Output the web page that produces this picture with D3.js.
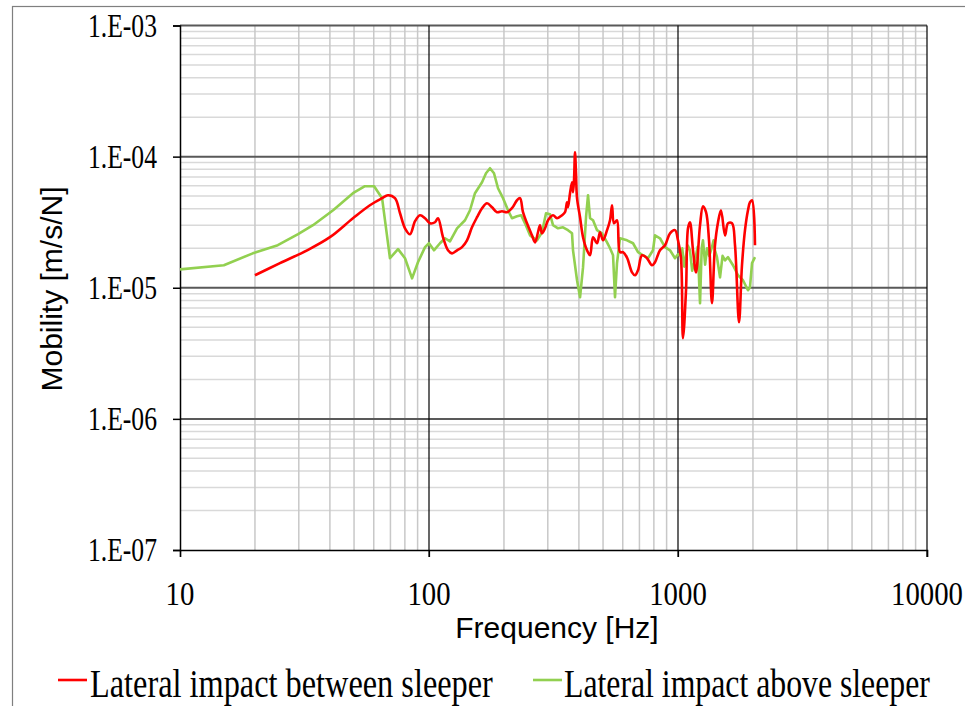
<!DOCTYPE html>
<html>
<head>
<meta charset="utf-8">
<script src="https://cdn.jsdelivr.net/npm/d3@7"></script>
<style>
  html, body { margin: 0; padding: 0; background: #fff; }
  svg { display: block; }
</style>
</head>
<body>
<svg id="chart" width="965" height="706"></svg>
<script>
// Lateral impact between sleeper: frequency [Hz] and mobility [m/s/N]
const freqBetween = [20, 25.2, 32.4, 40, 49.5, 57.9, 64.8, 68.4, 73, 76.5, 80.1, 83.9, 87.9, 92, 96.4,
  100.9, 105.7, 108.7, 113.8, 119.2, 123.7, 129.6, 135.7, 142.1, 148.8, 155.9, 163.3, 171, 179.1,
  187.6, 196.4, 205.8, 215.4, 225.7, 232.1, 238.5, 247.5, 259.2, 266.5, 274, 279.1, 284.3, 292.4,
  300.6, 314.8, 326.6, 342.1, 351.7, 358.3, 361.6, 368.4, 375.3, 378.8, 382.3, 385.8, 389.4, 393.1,
  404.2, 415.5, 431.2, 443.3, 455.8, 473, 486.2, 499.9, 518.8, 533.4, 543.3, 553.4, 568.9, 584.9,
  601.4, 624, 653.7, 672, 690.9, 717, 750.8, 786.3, 808.3, 846.5, 886.7, 928.8, 972.7, 1000, 1028,
  1047, 1077, 1097, 1117, 1149, 1181, 1226, 1260, 1296, 1332, 1369, 1408, 1448, 1488, 1545, 1588,
  1648, 1694, 1758, 1807, 1858, 1910, 1946, 1983, 2038];
const mobBetween = [1.245e-5, 1.54e-5, 1.93e-5, 2.43e-5, 3.39e-5, 4.26e-5, 4.82e-5, 5.08e-5, 4.82e-5,
  3.70e-5, 2.84e-5, 2.56e-5, 3.22e-5, 3.57e-5, 3.39e-5,
  3.10e-5, 3.16e-5, 3.39e-5, 2.43e-5, 1.93e-5, 1.83e-5, 1.93e-5, 2.04e-5, 2.30e-5, 2.89e-5, 3.45e-5,
  4.04e-5, 4.41e-5, 4.11e-5,
  3.77e-5, 3.83e-5, 3.77e-5, 4.04e-5, 4.65e-5, 4.82e-5, 3.77e-5, 3.10e-5, 2.51e-5, 2.22e-5, 2.65e-5,
  3.0e-5, 2.60e-5, 2.84e-5,
  3.27e-5, 3.57e-5, 3.39e-5, 3.57e-5, 3.77e-5, 4.49e-5, 4.11e-5, 5.26e-5, 6.38e-5, 5.35e-5, 6.61e-5,
  10.8e-5, 7.47e-5, 4.82e-5,
  3.45e-5, 2.43e-5, 1.93e-5, 1.77e-5, 2.43e-5, 2.185e-5, 2.65e-5, 2.30e-5, 2.75e-5, 3.27e-5, 4.26e-5,
  3.10e-5, 3.27e-5, 1.87e-5,
  1.87e-5, 1.70e-5, 1.31e-5, 1.245e-5, 1.36e-5, 1.77e-5, 1.68e-5, 1.485e-5, 1.565e-5, 1.93e-5,
  2.11e-5, 2.60e-5, 2.75e-5, 2.30e-5, 1.68e-5,
  0.412e-5, 0.957e-5, 2.84e-5, 3.16e-5, 1.93e-5, 1.31e-5, 3.0e-5, 4.18e-5, 3.77e-5, 2.30e-5, 0.762e-5,
  2.11e-5, 3.16e-5, 3.9e-5, 2.51e-5, 3.10e-5,
  3.10e-5, 2.11e-5, 0.545e-5, 1.485e-5, 2.75e-5, 3.9e-5, 4.49e-5, 4.65e-5, 2.11e-5];

// Lateral impact above sleeper
const freqAbove = [10, 15, 19.6, 24.7, 29.8, 34.2, 41.2, 49.5, 55.3, 60.2, 64.8, 69.7, 75.1, 80.1, 85.5,
  90.3, 96.4, 100, 104.7, 110.7, 116, 121.4, 129.6, 139.5, 146.1, 153, 163.3, 169.4, 175.8, 182.4,
  189.3, 198.3, 207.7, 215.4, 225.7, 234.5, 243, 254.5, 271.5, 284.3, 295.1, 306.1, 314.8, 329.7,
  345.3, 361.6, 375.3, 378.8, 393.1, 404.2, 415.5, 427.2, 435.2, 443.3, 455.8, 473, 495.3, 518.8,
  533.4, 548.4, 558.5, 568.9, 584.9, 624.2, 659.8, 690.9, 723.6, 757.8, 793.5, 808.3, 846.5, 886.7,
  928.8, 972.7, 1000, 1019, 1040, 1060, 1077, 1095, 1117, 1140, 1170, 1200, 1226, 1245, 1260, 1285,
  1308, 1335, 1369, 1390, 1408, 1434, 1475, 1510, 1545, 1588, 1663, 1742, 1824, 1910, 1946, 1983, 2038];
const mobAbove = [1.38e-5, 1.485e-5, 1.83e-5, 2.11e-5, 2.56e-5, 3.0e-5, 3.9e-5, 5.26e-5, 5.95e-5, 5.95e-5,
  4.82e-5, 1.68e-5, 1.97e-5, 1.68e-5, 1.18e-5,
  1.565e-5, 2.04e-5, 2.185e-5, 1.93e-5, 2.185e-5, 2.385e-5, 2.26e-5, 2.84e-5, 3.27e-5, 3.9e-5, 5.26e-5,
  6.38e-5, 7.47e-5, 8.16e-5, 7.47e-5,
  5.74e-5, 4.82e-5, 3.9e-5, 3.39e-5, 3.51e-5, 3.57e-5, 3.10e-5, 2.51e-5, 2.30e-5, 2.65e-5, 3.70e-5,
  3.64e-5, 3.0e-5, 2.84e-5,
  2.89e-5, 2.75e-5, 2.60e-5, 1.93e-5, 1.14e-5, 0.846e-5, 1.43e-5, 3.45e-5, 5.08e-5, 3.39e-5, 3.27e-5,
  2.75e-5, 2.60e-5, 2.22e-5,
  2.0e-5, 1.77e-5, 0.846e-5, 1.54e-5, 2.385e-5, 2.30e-5, 2.185e-5, 1.87e-5, 1.77e-5, 1.68e-5, 1.93e-5,
  2.51e-5, 2.385e-5, 2.04e-5,
  1.93e-5, 1.68e-5, 1.80e-5, 1.77e-5, 2.0e-5, 1.45e-5, 1.74e-5, 2.10e-5, 1.93e-5, 1.35e-5, 1.62e-5,
  2.05e-5, 0.762e-5, 2.0e-5, 2.30e-5, 1.50e-5,
  2.0e-5, 1.75e-5, 2.04e-5, 2.3e-5, 1.93e-5, 1.71e-5, 1.20e-5, 1.75e-5, 1.62e-5, 1.71e-5, 1.485e-5,
  1.245e-5, 1.14e-5, 0.957e-5, 1.01e-5, 1.54e-5, 1.71e-5];

const xTicks = [10, 100, 1000, 10000];
const xTickLabels = ["10", "100", "1000", "10000"];
const yTicks = [1e-3, 1e-4, 1e-5, 1e-6, 1e-7];
const yTickLabels = ["1.E-03", "1.E-04", "1.E-05", "1.E-06", "1.E-07"];
const seriesNames = ["Lateral impact between sleeper", "Lateral impact above sleeper"];
const seriesColors = ["#ff0000", "#92d050"];

const svg = d3.select("#chart");
const plotLeft = 180, plotRight = 927, plotTop = 25.5, plotBottom = 550;

const x = d3.scaleLog().domain([10, 10000]).range([plotLeft, plotRight]);
const y = d3.scaleLog().domain([1e-7, 1e-3]).range([plotBottom, plotTop]);

// Narrow serif text: draw at the origin, then squeeze horizontally to a given width.
// anchor: 0 = start, 0.5 = middle, 1 = end
function narrowText(parent, str, px, py, size, width, anchor) {
  const t = parent.append("text")
    .attr("font-family", "Liberation Serif, serif")
    .attr("font-size", size)
    .text(str);
  const w = t.node().getComputedTextLength();
  const k = width / w;
  t.attr("transform", `translate(${px - anchor * width},${py}) scale(${k},1)`);
  return t;
}

// outer frame
svg.append("rect")
  .attr("x", 12.5).attr("y", 6.5).attr("width", 1000).attr("height", 800)
  .attr("fill", "none").attr("stroke", "#7f7f7f").attr("stroke-width", 1.2);

// minor gridlines
const minorX = [];
const minorY = [];
for (let d = 10; d < 10000; d *= 10) for (let k = 2; k <= 9; k++) minorX.push(d * k);
for (let d = 1e-7; d < 1e-3 * 0.99; d *= 10) for (let k = 2; k <= 9; k++) minorY.push(d * k);

const grid = svg.append("g");
grid.selectAll(".hmin").data(minorY).join("line")
  .attr("x1", plotLeft).attr("x2", plotRight)
  .attr("y1", d => y(d)).attr("y2", d => y(d))
  .attr("stroke", "#d9d9d9").attr("stroke-width", 1.5);
grid.selectAll(".vmin").data(minorX).join("line")
  .attr("x1", d => x(d)).attr("x2", d => x(d))
  .attr("y1", plotTop).attr("y2", plotBottom)
  .attr("stroke", "#c8c8c8").attr("stroke-width", 1.5);
// major gridlines
grid.selectAll(".hmaj").data(yTicks.slice(0, 4)).join("line")
  .attr("x1", plotLeft).attr("x2", plotRight)
  .attr("y1", d => y(d)).attr("y2", d => y(d))
  .attr("stroke", "#595959").attr("stroke-width", 2);
grid.selectAll(".vmaj").data(xTicks.slice(1)).join("line")
  .attr("x1", d => x(d)).attr("x2", d => x(d))
  .attr("y1", plotTop).attr("y2", plotBottom + 7)
  .attr("stroke", "#000").attr("stroke-width", 1.2);

// axes
const yAxis = d3.axisLeft(y).tickValues(yTicks).tickSize(7).tickFormat("");
const gy = svg.append("g").attr("transform", `translate(${plotLeft},0)`).call(yAxis);
gy.select(".domain").attr("stroke", "#000").attr("stroke-width", 1.5);
gy.selectAll(".tick line").attr("stroke", "#000").attr("stroke-width", 1.5);

const xAxis = d3.axisBottom(x).tickValues(xTicks).tickSize(7).tickFormat("");
const gx = svg.append("g").attr("transform", `translate(0,${plotBottom})`).call(xAxis);
gx.select(".domain").attr("stroke", "#000").attr("stroke-width", 1.5);
gx.selectAll(".tick line").attr("stroke", "#000").attr("stroke-width", 1.2);

// tick labels
const yLab = svg.append("g");
yTicks.forEach((d, i) => narrowText(yLab, yTickLabels[i], 157, y(d) + 11, 33, 69, 1));
const xLab = svg.append("g");
xTicks.forEach((d, i) => narrowText(xLab, xTickLabels[i], x(d), 605, 33, 14.4 * xTickLabels[i].length, 0.5));

// axis titles
svg.append("text")
  .attr("x", 557).attr("y", 638).attr("text-anchor", "middle")
  .attr("font-family", "Liberation Sans, Arial, sans-serif").attr("font-size", 30)
  .text("Frequency [Hz]");
svg.append("text")
  .attr("transform", "translate(62,289) rotate(-90)").attr("text-anchor", "middle")
  .attr("font-family", "Liberation Sans, Arial, sans-serif").attr("font-size", 30)
  .text("Mobility [m/s/N]");

// series: green first, red drawn over it
const series = [
  { f: freqAbove, v: mobAbove, curve: d3.curveLinear, color: seriesColors[1] },
  { f: freqBetween, v: mobBetween, curve: d3.curveCatmullRom.alpha(0.5), color: seriesColors[0] }
];
series.forEach(s => {
  const pts = s.f.map((f, j) => [f, s.v[j]]);
  const line = d3.line().x(d => x(d[0])).y(d => y(d[1])).curve(s.curve);
  svg.append("path").datum(pts)
    .attr("d", line)
    .attr("fill", "none")
    .attr("stroke", s.color)
    .attr("stroke-width", 2.6)
    .attr("stroke-linejoin", "round");
});

// legend
const legend = [
  { x1: 58, x2: 87, tx: 90, len: 403 },
  { x1: 533, x2: 562, tx: 564, len: 366 }
];
const leg = svg.append("g");
legend.forEach((l, i) => {
  leg.append("line")
    .attr("x1", l.x1).attr("x2", l.x2).attr("y1", 680).attr("y2", 680)
    .attr("stroke", seriesColors[i]).attr("stroke-width", 2.6);
  narrowText(leg, seriesNames[i], l.tx, 697, 41, l.len, 0);
});
</script>
</body>
</html>
